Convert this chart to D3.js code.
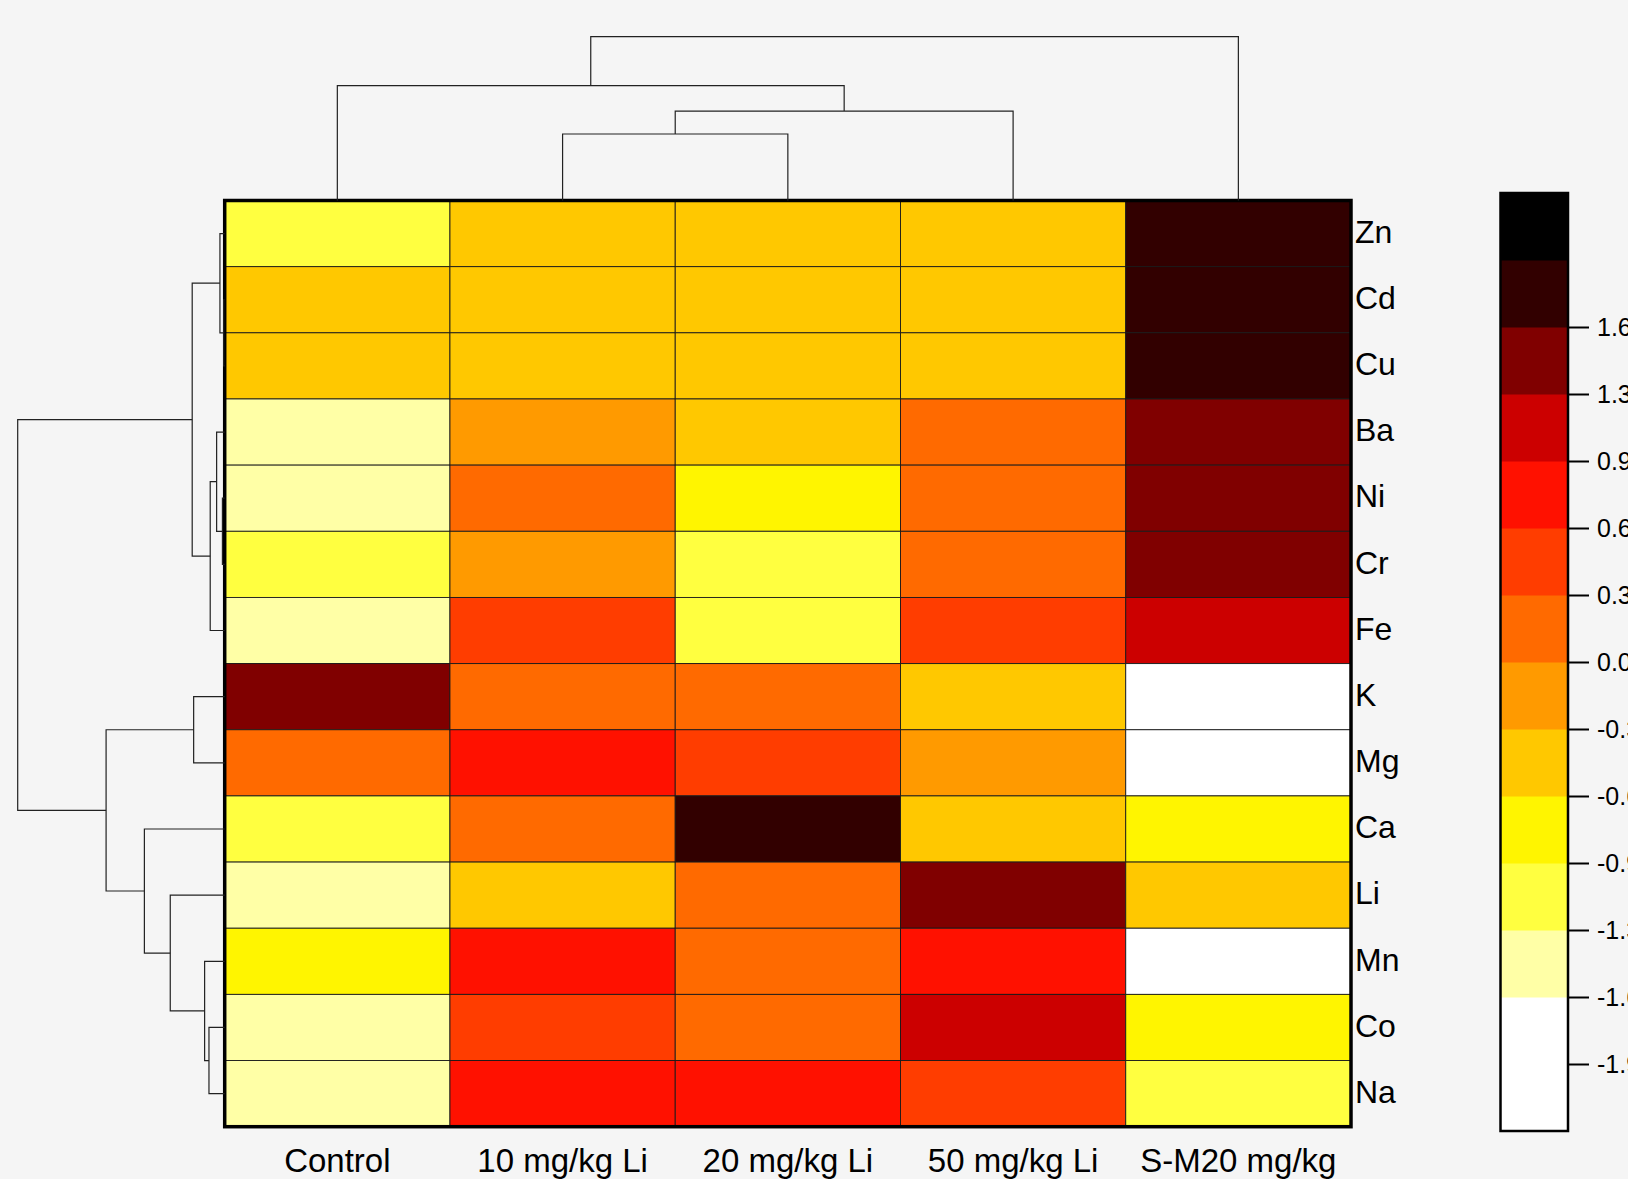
<!DOCTYPE html>
<html>
<head>
<meta charset="utf-8">
<script src="https://cdn.jsdelivr.net/npm/d3@7/dist/d3.min.js"></script>
<style>
  html, body { margin: 0; padding: 0; background: #F5F5F5; overflow: hidden; }
  svg { display: block; font-family: "Liberation Sans", Arial, sans-serif; }
</style>
</head>
<body>
<svg id="chart" width="1628" height="1179"></svg>
<script>
// ---------- data ----------
const rowNames = ["Zn","Cd","Cu","Ba","Ni","Cr","Fe","K","Mg","Ca","Li","Mn","Co","Na"];
const colNames = ["Control","10 mg/kg Li","20 mg/kg Li","50 mg/kg Li","S-M20 mg/kg"];

// row-scaled values (z-scores), one array per treatment, in rowNames order
const control = [-1.05,-0.47,-0.48,-1.52,-1.43,-1.20,-1.38, 1.56, 0.05,-1.10,-1.40,-0.90,-1.45,-1.58];
const li10    = [-0.42,-0.44,-0.43,-0.12, 0.22,-0.08, 0.52, 0.12, 0.92, 0.18,-0.40, 0.80, 0.48, 0.75];
const li20    = [-0.45,-0.46,-0.44,-0.38,-0.85,-1.02,-1.05, 0.08, 0.55, 1.78, 0.15, 0.10, 0.20, 0.72];
const li50    = [-0.40,-0.40,-0.41, 0.21, 0.28, 0.30, 0.61,-0.40,-0.15,-0.45, 1.52, 0.85, 1.10, 0.40];
const sm20    = [ 1.78, 1.78, 1.79, 1.45, 1.40, 1.58, 1.28,-1.85,-1.80,-0.80,-0.42,-1.75,-0.75,-1.15];
const seriesByCol = [control, li10, li20, li50, sm20];

// colour key (low -> high)
const palette = ["#FFFFFF","#FFFFFF","#FFFFA6","#FFFF40","#FFF500","#FFC800","#FF9A00",
                 "#FF6A00","#FF3D00","#FF1100","#CC0000","#800000","#320000","#000000"];
const keyDomain = [-2.31, 2.31];
const keyTicks = [1.65, 1.32, 0.99, 0.66, 0.33, 0.00, -0.33, -0.66, -0.99, -1.32, -1.65, -1.98];

// dendrograms: [childA, childB, height]; strings = leaves, numbers = earlier merge index
const rowMerges = [
  ["Cd","Cu",0.05], ["Ni","Cr",0.11], ["Zn",0,0.23], ["Ba",1,0.39], [3,"Fe",0.70],
  ["Co","Na",0.76], ["Mn",5,0.97], ["K","Mg",1.50], [2,4,1.57], ["Li",6,2.63],
  ["Ca",9,3.88], [7,10,5.73], [8,11,10.0]
];
const colMerges = [
  ["10 mg/kg Li","20 mg/kg Li",4.06], [0,"50 mg/kg Li",5.46],
  ["Control",1,7.01], [2,"S-M20 mg/kg",10.0]
];

// ---------- layout ----------
const svg = d3.select("#chart");
const hm = { x0: 224.7, x1: 1351, y0: 200.5, y1: 1126.7 };

const x = d3.scaleBand().domain(colNames).range([hm.x0, hm.x1]).padding(0);
const y = d3.scaleBand().domain(rowNames).range([hm.y0, hm.y1]).padding(0);
const color = d3.scaleQuantize().domain(keyDomain).range(palette);

svg.append("rect").attr("width",1628).attr("height",1179).attr("fill","#F5F5F5");

// ---------- cells ----------
const cells = [];
colNames.forEach((c, j) => rowNames.forEach((r, i) => cells.push({ r, c, v: seriesByCol[j][i] })));

svg.append("g").selectAll("rect").data(cells).join("rect")
  .attr("x", d => x(d.c)).attr("y", d => y(d.r))
  .attr("width", x.bandwidth()).attr("height", y.bandwidth())
  .attr("fill", d => color(d.v))
  .attr("stroke", "#1a1a1a").attr("stroke-width", 0.9);

svg.append("rect")
  .attr("x", hm.x0).attr("y", hm.y0)
  .attr("width", hm.x1 - hm.x0).attr("height", hm.y1 - hm.y0)
  .attr("fill", "none").attr("stroke", "#000").attr("stroke-width", 3.5);

// ---------- labels ----------
svg.append("g").selectAll("text").data(rowNames).join("text")
  .attr("x", 1355).attr("y", d => y(d) + y.bandwidth() / 2).attr("dy", "0.29em")
  .attr("font-size", 32).attr("fill", "#000").text(d => d);

svg.append("g").selectAll("text").data(colNames).join("text")
  .attr("x", d => x(d) + x.bandwidth() / 2).attr("y", 1172)
  .attr("text-anchor", "middle").attr("font-size", 33).attr("fill", "#000").text(d => d);

// ---------- dendrograms ----------
function drawDendro(merges, leafPos, hScale, orient) {
  const nodes = merges.map(m => ({ a: m[0], b: m[1], h: m[2] }));
  const pos = k => (typeof k === "string") ? leafPos(k) : nodes[k].p;
  const ht = k => (typeof k === "string") ? 0 : nodes[k].h;
  const g = svg.append("g").attr("fill", "none").attr("stroke", "#222").attr("stroke-width", 1.2);
  nodes.forEach(n => {
    const pa = pos(n.a), pb = pos(n.b);
    n.p = (pa + pb) / 2;
    const H = hScale(n.h), Ha = hScale(ht(n.a)), Hb = hScale(ht(n.b));
    const path = d3.path();
    if (orient === "top") {
      path.moveTo(pa, Ha); path.lineTo(pa, H); path.lineTo(pb, H); path.lineTo(pb, Hb);
    } else {
      path.moveTo(Ha, pa); path.lineTo(H, pa); path.lineTo(H, pb); path.lineTo(Hb, pb);
    }
    g.append("path").attr("d", path.toString());
  });
}
const colH = d3.scaleLinear().domain([0, 10]).range([hm.y0, 36.7]);
const rowH = d3.scaleLinear().domain([0, 10]).range([hm.x0, 17.7]);
drawDendro(colMerges, c => x(c) + x.bandwidth() / 2, colH, "top");
drawDendro(rowMerges, r => y(r) + y.bandwidth() / 2, rowH, "left");

// ---------- colour key ----------
const key = { x0: 1500.5, x1: 1568, y0: 193, y1: 1131 };
const ky = d3.scaleLinear().domain(keyDomain).range([key.y1, key.y0]);
const kg = svg.append("g");
kg.selectAll("rect").data(palette.map(p => p).map((p, i) => ({ p, i }))).join("rect")
  .attr("x", key.x0).attr("width", key.x1 - key.x0)
  .attr("y", d => ky(keyDomain[0] + (keyDomain[1] - keyDomain[0]) * (d.i + 1) / palette.length))
  .attr("height", (key.y1 - key.y0) / palette.length + 0.5)
  .attr("fill", d => d.p);
kg.append("rect").attr("x", key.x0).attr("y", key.y0)
  .attr("width", key.x1 - key.x0).attr("height", key.y1 - key.y0)
  .attr("fill", "none").attr("stroke", "#000").attr("stroke-width", 2.5);

const axis = d3.axisRight(ky).tickValues(keyTicks).tickSize(21).tickPadding(8)
  .tickFormat(d => d.toFixed(2));
const ag = svg.append("g").attr("transform", `translate(${key.x1},0)`).call(axis);
ag.select(".domain").remove();
ag.selectAll(".tick line").attr("stroke", "#000").attr("stroke-width", 2);
ag.selectAll(".tick text").attr("font-size", 25).attr("fill", "#000")
  .attr("font-family", "\"Liberation Sans\", Arial, sans-serif");
</script>
</body>
</html>
